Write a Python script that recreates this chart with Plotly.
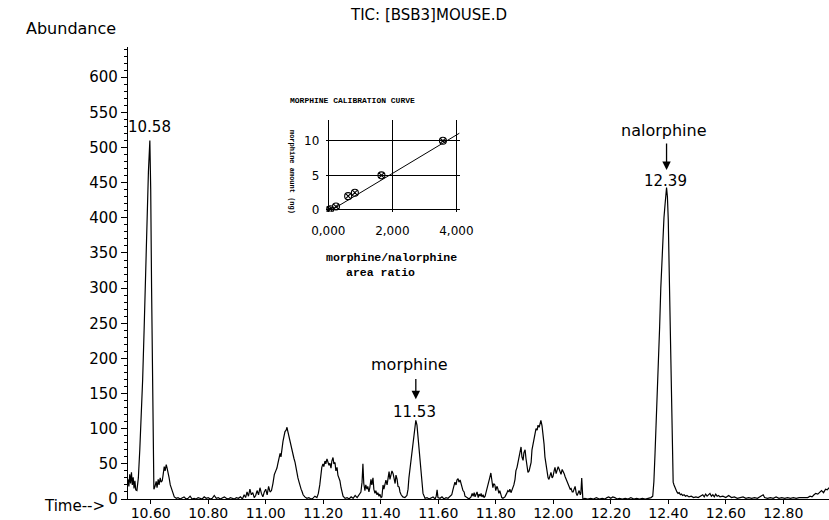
import plotly.graph_objects as go

# ---------------- data ----------------
time_min = [
    10.521, 10.524, 10.527, 10.530, 10.533, 10.536, 10.539, 10.542, 10.545, 10.548,
    10.552, 10.557, 10.562, 10.567, 10.572, 10.577, 10.582, 10.587, 10.592, 10.597,
    10.600, 10.603, 10.606, 10.609, 10.611, 10.615, 10.619, 10.622, 10.626, 10.629,
    10.633, 10.636, 10.640, 10.643, 10.647, 10.650, 10.654, 10.657, 10.661, 10.664,
    10.668, 10.671, 10.675, 10.678, 10.682, 10.689,
    10.695, 10.702, 10.709, 10.716, 10.723, 10.730, 10.737, 10.744, 10.751, 10.758,
    10.765, 10.772, 10.779, 10.786, 10.793, 10.800, 10.807, 10.814, 10.821, 10.828,
    10.835, 10.842, 10.849, 10.856, 10.863, 10.870, 10.877, 10.884, 10.891, 10.898,
    10.905, 10.912, 10.919,
    10.925, 10.930, 10.935, 10.940, 10.945, 10.950, 10.955, 10.960, 10.965, 10.970,
    10.975, 10.980, 10.985, 10.990, 10.995, 11.000, 11.005, 11.010, 11.015, 11.020,
    11.025, 11.030, 11.035, 11.039, 11.042, 11.046, 11.050, 11.053, 11.056, 11.060,
    11.064, 11.067, 11.071, 11.074, 11.077, 11.081, 11.084, 11.088, 11.091, 11.095,
    11.098, 11.102, 11.105, 11.109, 11.112, 11.116, 11.119, 11.123, 11.126, 11.130,
    11.136, 11.143, 11.150, 11.157, 11.164, 11.171, 11.178, 11.183, 11.188, 11.192,
    11.195, 11.199, 11.202, 11.206, 11.209, 11.213, 11.216, 11.220, 11.223, 11.227,
    11.230, 11.234, 11.237, 11.241, 11.244, 11.248, 11.251, 11.255, 11.258, 11.262,
    11.265, 11.269, 11.276, 11.283, 11.290, 11.297, 11.304, 11.311, 11.318, 11.325,
    11.331, 11.335, 11.338, 11.341, 11.345, 11.348, 11.352, 11.355, 11.359, 11.362,
    11.366, 11.369, 11.373, 11.376, 11.380, 11.383, 11.387, 11.390, 11.394, 11.397,
    11.401, 11.404, 11.408, 11.411, 11.415, 11.418, 11.422, 11.425, 11.429, 11.432,
    11.436, 11.439, 11.443, 11.446, 11.450, 11.453, 11.457, 11.460, 11.464, 11.467,
    11.471, 11.477, 11.484, 11.491, 11.495, 11.498, 11.502, 11.505, 11.508, 11.512,
    11.515, 11.519, 11.522, 11.526, 11.529, 11.533, 11.536, 11.540, 11.543, 11.547,
    11.554, 11.561, 11.568, 11.575, 11.582, 11.589, 11.593, 11.596, 11.599, 11.606,
    11.613, 11.620, 11.627, 11.634, 11.641, 11.647, 11.651, 11.655, 11.658, 11.662,
    11.665, 11.669, 11.672, 11.676, 11.679, 11.683, 11.686, 11.690, 11.693, 11.700,
    11.707, 11.714, 11.718, 11.721, 11.725, 11.728, 11.732, 11.735, 11.739, 11.742,
    11.746, 11.749, 11.752, 11.756, 11.759, 11.763, 11.766, 11.769, 11.772, 11.776,
    11.779, 11.783, 11.786, 11.790, 11.793, 11.797, 11.800, 11.804, 11.807, 11.811,
    11.814, 11.818, 11.821, 11.825, 11.832, 11.838, 11.842, 11.846, 11.849, 11.853,
    11.856, 11.860, 11.863, 11.867, 11.870, 11.874, 11.877, 11.881, 11.884, 11.888,
    11.891, 11.895, 11.898, 11.902, 11.905, 11.909, 11.912, 11.916, 11.919, 11.923,
    11.926, 11.930, 11.933, 11.937, 11.940, 11.944, 11.947, 11.951, 11.954, 11.957,
    11.961, 11.964, 11.968, 11.971, 11.975, 11.978, 11.982, 11.985, 11.989, 11.992,
    11.996, 11.999, 12.003, 12.006, 12.010, 12.013, 12.017, 12.020, 12.024, 12.027,
    12.031, 12.034, 12.038, 12.041, 12.045, 12.048, 12.052, 12.055, 12.059, 12.062,
    12.066, 12.069, 12.073, 12.076, 12.080, 12.083, 12.087, 12.090, 12.094, 12.096,
    12.099, 12.101, 12.103,
    12.110, 12.120, 12.130, 12.140, 12.150, 12.160, 12.170, 12.180, 12.187, 12.193,
    12.200, 12.207, 12.214, 12.222, 12.230, 12.240, 12.250, 12.260, 12.270, 12.280,
    12.290, 12.300, 12.310, 12.320, 12.330, 12.340, 12.346, 12.350, 12.354, 12.360,
    12.365, 12.370, 12.374, 12.378, 12.381, 12.385, 12.389, 12.392, 12.394, 12.397,
    12.400, 12.403, 12.406, 12.409, 12.412, 12.415, 12.417, 12.420, 12.423, 12.426,
    12.430, 12.434, 12.438, 12.442, 12.446, 12.450, 12.455, 12.460, 12.465, 12.472,
    12.480, 12.488, 12.496, 12.504, 12.512, 12.520, 12.525, 12.530, 12.535, 12.540,
    12.545, 12.550, 12.555, 12.560, 12.565, 12.570, 12.575, 12.580, 12.590, 12.600,
    12.610, 12.620, 12.630, 12.640, 12.650, 12.660, 12.670, 12.680, 12.690, 12.700,
    12.710, 12.720, 12.730, 12.735, 12.745, 12.755, 12.765, 12.775, 12.785, 12.795,
    12.805, 12.815, 12.825, 12.835, 12.845, 12.855, 12.865, 12.875, 12.885, 12.893,
    12.900, 12.907, 12.913, 12.920, 12.927, 12.933, 12.940, 12.947, 12.953, 12.959,
]

abundance = [
    28, 18, 35, 22, 38, 20, 31, 15, 26, 13,
    12, 30, 70, 110, 170, 240, 320, 400, 465, 510,
    440, 300, 150, 40, 14, 18, 25, 16, 28, 20,
    30, 24, 26, 34, 46, 40, 49, 44, 32, 30,
    20, 16, 10, 6, 3, 1,
    2, 0, 1, 3, 0, 1, 4, 0, 1, 0,
    2, 1, 0, 3, 1, 2, 0, 1, 5, 1,
    2, 0, 1, 3, 1, 0, 2, 1, 0, 2,
    1, 3, 0,
    6, 2, 10, 4, 14, 6, 9, 2, 5, 12,
    6, 16, 8, 3, 10, 14, 6, 18, 10, 12,
    22, 35, 40, 44, 50, 58, 65, 60, 74, 82,
    90, 96, 98, 102, 96, 88, 84, 76, 70, 62,
    58, 52, 44, 36, 30, 24, 18, 14, 11, 6,
    3, 1, 2, 0, 1, 4, 2, 8, 20, 38,
    45, 50, 46, 54, 50, 57, 52, 48, 51, 44,
    54, 59, 50, 52, 40, 45, 34, 30, 26, 16,
    9, 4, 1, 2, 0, 3, 1, 5, 2, 6,
    10, 24, 50, 22, 12, 20, 14, 18, 10, 16,
    28, 20, 30, 14, 8, 12, 6, 9, 4, 7,
    2, 3, 20, 14, 24, 27, 20, 30, 39, 28,
    34, 40, 36, 31, 22, 34, 28, 18, 17, 10,
    6, 3, 2, 5, 14, 30, 45, 56, 62, 80,
    90, 100, 112, 105, 90, 70, 52, 35, 20, 8,
    1, 2, 0, 1, 3, 0, 4, 13, 2, 1,
    3, 0, 2, 1, 4, 6, 13, 18, 24, 20,
    27, 29, 24, 27, 22, 16, 12, 10, 4, 2,
    0, 3, 8, 4, 9, 3, 6, 10, 2, 7,
    4, 8, 3, 6, 2, 4, 9, 15, 18, 25,
    30, 37, 30, 16, 22, 20, 12, 18, 15, 8,
    12, 5, 2, 1, 3, 8, 12, 10, 14, 9,
    12, 16, 20, 28, 40, 45, 52, 62, 70, 74,
    60, 55, 66, 70, 58, 48, 38, 40, 45, 52,
    70, 78, 88, 95, 100, 98, 105, 102, 108, 112,
    104, 95, 78, 60, 46, 35, 30, 28, 33, 38,
    30, 32, 40, 45, 36, 40, 46, 43, 38, 35,
    42, 40, 36, 32, 28, 25, 22, 20, 14, 15,
    10, 10, 16, 18, 8, 5, 9, 12, 6, 8,
    30, 2, 0,
    1, 0, 1, 0, 2, 0, 1, 0, 2, 3,
    1, 3, 2, 0, 1, 0, 1, 0, 2, 0,
    1, 0, 1, 0, 1, 2, 4, 25, 65, 125,
    183, 245, 300, 345, 372, 400, 420, 435, 443, 430,
    397, 330, 255, 180, 110, 55, 24, 20, 17, 12,
    10, 8, 9, 6, 7, 5, 6, 4, 5, 3,
    4, 2, 3, 2, 4, 6, 3, 7, 4, 6,
    8, 4, 6, 3, 7, 4, 5, 3, 4, 2,
    5, 2, 3, 1, 2, 3, 1, 2, 1, 2,
    1, 3, 6, 2, 1, 2, 1, 3, 1, 2,
    1, 2, 1, 2, 1, 2, 2, 3, 2, 4,
    3, 6, 8, 7, 10, 12, 9, 14, 13, 16,
]

x_tick_vals = [10.6, 10.8, 11.0, 11.2, 11.4, 11.6, 11.8, 12.0, 12.2, 12.4, 12.6, 12.8]
x_tick_text = ["10.60", "10.80", "11.00", "11.20", "11.40", "11.60", "11.80",
               "12.00", "12.20", "12.40", "12.60", "12.80"]
y_tick_vals = [0, 50, 100, 150, 200, 250, 300, 350, 400, 450, 500, 550, 600]

# peak labels
peak_rt_labels = ["10.58", "11.53", "12.39"]
peak_rt = [10.597, 11.522, 12.394]
peak_top = [510, 112, 443]

# calibration inset
calib_ratio = [0.00, 0.06, 0.24, 0.62, 0.83, 1.66, 3.58]
calib_amount = [0.0, 0.1, 0.5, 2.0, 2.5, 5.0, 10.0]
fit_slope = 2.78
fit_intercept = -0.29
fit_x = [0.10, 4.10]
fit_y = [fit_slope * v + fit_intercept for v in fit_x]
inset_x_ticks = [0, 2, 4]
inset_x_text = ["0,000", "2,000", "4,000"]
inset_y_ticks = [0, 5, 10]

# ---------------- figure ----------------
SANS = "DejaVu Sans"
MONO = "Liberation Mono"

fig = go.Figure()
fig.add_trace(go.Scatter(x=time_min, y=abundance, mode="lines",
                         line=dict(color="black", width=1.2),
                         xaxis="x", yaxis="y", showlegend=False))

fig.add_trace(go.Scatter(x=fit_x, y=fit_y, mode="lines",
                         line=dict(color="black", width=1),
                         xaxis="x2", yaxis="y2", showlegend=False))
fig.add_trace(go.Scatter(x=calib_ratio, y=calib_amount, mode="markers",
                         marker=dict(symbol="circle-x-open", size=7, color="black",
                                     line=dict(width=1.1, color="black")),
                         xaxis="x2", yaxis="y2", showlegend=False))


def txt(x, y, text, xref="paper", yref="paper", xanchor="center", yanchor="middle",
        family=SANS, size=15, **kw):
    font = dict(family=family, size=size, color="black")
    font.update(kw.pop("font_extra", {}))
    return dict(x=x, y=y, xref=xref, yref=yref, text=text, showarrow=False,
                xanchor=xanchor, yanchor=yanchor, font=font, **kw)


annotations = [
    # peak retention-time labels
    txt(peak_rt[0], peak_top[0] + 3, peak_rt_labels[0], xref="x", yref="y",
        yanchor="bottom"),
    txt(peak_rt[1] - 0.005, 124, peak_rt_labels[1], xref="x", yref="y"),
    txt(peak_rt[2] - 0.005, 453, peak_rt_labels[2], xref="x", yref="y"),
    # compound names
    txt(11.50, 191, "morphine", xref="x", yref="y", size=16),
    txt(12.383, 524, "nalorphine", xref="x", yref="y", size=16),
    # header texts
    txt(0.428, 1.071, "TIC: [BSB3]MOUSE.D"),
    txt(-0.0143, 1.042, "Abundance", xanchor="right", size=16),
    txt(-0.030, -0.0155, "Time-->", xanchor="right"),
    # inset texts
    txt(0.320, (499 - 101) / 452, "MORPHINE CALIBRATION CURVE", family=MONO, size=8,
        font_extra=dict(weight="bold")),
    txt(0.234, 0.7235, "morphine amount (ng)", family=MONO, size=7, textangle=90,
        font_extra=dict(weight="bold")),
    txt(0.3765, (499 - 257) / 452, "morphine/nalorphine", family=MONO, size=11.5,
        font_extra=dict(weight="bold")),
    txt(0.3595, (499 - 272) / 452, "area ratio", family=MONO, size=11.5,
        font_extra=dict(weight="bold")),
]
# arrows
annotations.append(dict(x=peak_rt[1], y=142, ax=peak_rt[1], ay=173,
                        xref="x", yref="y", axref="x", ayref="y", text="",
                        showarrow=True, arrowhead=2, arrowsize=1.3, arrowwidth=1.3,
                        arrowcolor="black"))
annotations.append(dict(x=peak_rt[2], y=468, ax=peak_rt[2], ay=508,
                        xref="x", yref="y", axref="x", ayref="y", text="",
                        showarrow=True, arrowhead=2, arrowsize=1.3, arrowwidth=1.3,
                        arrowcolor="black"))

fig.update_layout(
    width=829, height=520,
    margin=dict(l=128, r=0, t=47, b=21),
    paper_bgcolor="white", plot_bgcolor="white",
    showlegend=False,
    annotations=annotations,
    xaxis=dict(range=[10.521, 12.959], tickvals=x_tick_vals, ticktext=x_tick_text,
               showline=True, linecolor="black", linewidth=1.2, ticks="outside",
               ticklen=4, tickcolor="black", showgrid=False, zeroline=False,
               ticklabelstandoff=-3, automargin=False,
               tickfont=dict(family=SANS, size=14, color="black"), domain=[0, 1]),
    yaxis=dict(range=[0, 643], tickvals=y_tick_vals, showline=True, linecolor="black",
               linewidth=1.2, ticks="outside", ticklen=6, tickcolor="black",
               showgrid=False, zeroline=False, automargin=False,
               minor=dict(dtick=10, ticks="outside", ticklen=3, tickcolor="black"),
               tickfont=dict(family=SANS, size=15, color="black"), domain=[0, 1]),
    xaxis2=dict(domain=[0.2830, 0.4730], anchor="y2", range=[-0.06, 4.1],
                tickvals=inset_x_ticks, ticktext=inset_x_text, showgrid=True,
                gridcolor="black", gridwidth=1.2, zeroline=False, showline=False,
                ticks="", ticklabelstandoff=10, automargin=False,
                tickfont=dict(family=SANS, size=12, color="black")),
    yaxis2=dict(domain=[0.6356, 0.8385], anchor="x2", range=[-0.25, 13.0],
                tickvals=inset_y_ticks, showgrid=True, gridcolor="black",
                gridwidth=1.2, zeroline=False, showline=False, ticks="",
                ticklabelstandoff=6, automargin=False,
                tickfont=dict(family=SANS, size=12, color="black")),
)

fig.write_html(
    "out.html",
    config={"displayModeBar": False},
    post_script="document.body.style.margin='0';document.body.style.overflow='hidden';",
)
